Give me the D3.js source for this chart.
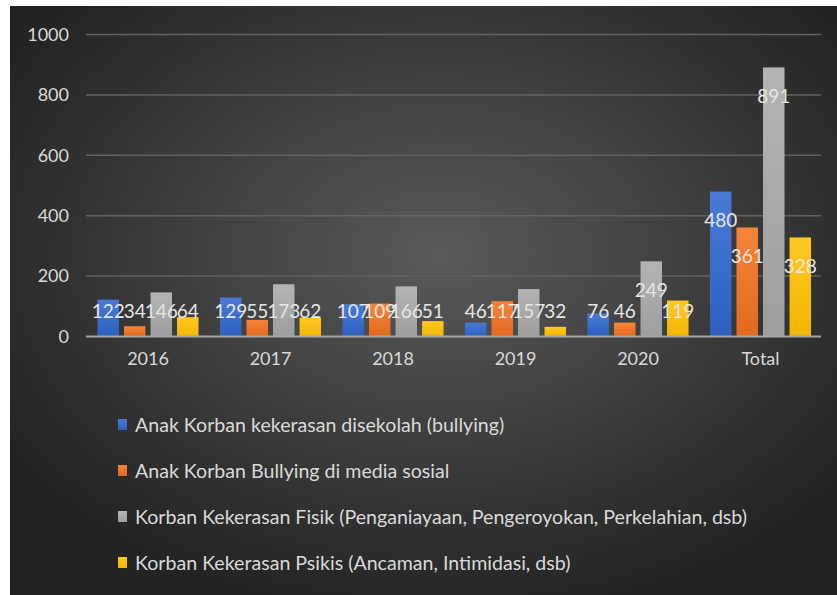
<!DOCTYPE html>
<html>
<head>
<meta charset="utf-8">
<script src="https://cdn.jsdelivr.net/npm/d3@7"></script>
<style>
  body { margin: 0; background: #fff; }
  svg { display: block; font-family: Lato, "Open Sans", sans-serif; }
</style>
</head>
<body>
<div id="chart"></div>
<script>
// data
const kategori = ["2016", "2017", "2018", "2019", "2020", "Total"];
const serije = [
    "Anak Korban kekerasan disekolah (bullying)",
    "Anak Korban Bullying di media sosial",
    "Korban Kekerasan Fisik (Penganiayaan, Pengeroyokan, Perkelahian, dsb)",
    "Korban Kekerasan Psikis (Ancaman, Intimidasi, dsb)"
];
const nilaiSekolah = [122, 129, 107, 46, 76, 480];
const nilaiMedsos = [34, 55, 109, 117, 46, 361];
const nilaiFisik = [146, 173, 166, 157, 249, 891];
const nilaiPsikis = [64, 62, 51, 32, 119, 328];
const yTicks = [0, 200, 400, 600, 800, 1000];

const warna = [
    ["#4a7ad6", "#2c60bf"],
    ["#f5843a", "#e2691e"],
    ["#b4b4b4", "#9e9e9e"],
    ["#ffc823", "#f2b500"]
];

const sviNizovi = [nilaiSekolah, nilaiMedsos, nilaiFisik, nilaiPsikis];

const sirina = 837, visina = 595;
const svg = d3.select("#chart").append("svg")
    .attr("width", sirina)
    .attr("height", visina);

const defs = svg.append("defs");
const pozadina = defs.append("radialGradient")
    .attr("id", "pozadina")
    .attr("cx", "52%").attr("cy", "42%").attr("r", "62%");
pozadina.append("stop").attr("offset", "0%").attr("stop-color", "#5a5a5a");
pozadina.append("stop").attr("offset", "100%").attr("stop-color", "#232323");

warna.forEach((w, i) => {
    const g = defs.append("linearGradient")
        .attr("id", "bar" + i)
        .attr("x1", 0).attr("y1", 0).attr("x2", 0).attr("y2", 1);
    g.append("stop").attr("offset", "0%").attr("stop-color", w[0]);
    g.append("stop").attr("offset", "100%").attr("stop-color", w[1]);
});

svg.append("rect")
    .attr("x", 10).attr("y", 6)
    .attr("width", sirina - 10).attr("height", visina - 6)
    .attr("fill", "url(#pozadina)");

// scales
const x0 = d3.scaleBand()
    .domain(kategori)
    .range([86.75, 821.75]);

const grupa = x0.bandwidth() * 0.825;
const x1 = d3.scaleBand()
    .domain(d3.range(serije.length))
    .range([(x0.bandwidth() - grupa) / 2, (x0.bandwidth() + grupa) / 2])
    .paddingInner(0.19);

const y = d3.scaleLinear()
    .domain([0, 1000])
    .range([336.5, 34.5]);

// gridlines
svg.append("g")
    .selectAll("line")
    .data(yTicks.filter(t => t > 0))
    .join("line")
    .attr("x1", 86).attr("x2", 821)
    .attr("y1", d => y(d)).attr("y2", d => y(d))
    .attr("stroke", "#626262")
    .attr("stroke-width", 1.5);

// y axis labels
const yOs = svg.append("g")
    .attr("transform", "translate(72,0)")
    .call(d3.axisLeft(y).tickValues(yTicks).tickFormat(d3.format("d")).tickSize(0).tickPadding(3));
yOs.select(".domain").remove();
yOs.selectAll("text")
    .attr("fill", "#d9d9d9")
    .style("font-size", "18px")
    .style("font-family", "Lato, sans-serif");

// bars
const grupe = svg.append("g")
    .selectAll("g")
    .data(kategori.map((k, i) => ({ k, vals: sviNizovi.map(s => s[i]) })))
    .join("g")
    .attr("transform", d => `translate(${x0(d.k)},0)`);

grupe.selectAll("rect")
    .data(d => d.vals.map((v, s) => ({ v, s })))
    .join("rect")
    .attr("x", d => x1(d.s))
    .attr("y", d => y(d.v))
    .attr("width", x1.bandwidth())
    .attr("height", d => y(0) - y(d.v))
    .attr("fill", d => `url(#bar${d.s})`);

// zero line
svg.append("line")
    .attr("x1", 86).attr("x2", 821)
    .attr("y1", y(0)).attr("y2", y(0))
    .attr("stroke", "#a6a6a6")
    .attr("stroke-width", 2);

// data labels
grupe.selectAll("text")
    .data(d => d.vals.map((v, s) => ({ v, s })))
    .join("text")
    .attr("x", d => x1(d.s) + x1.bandwidth() / 2)
    .attr("y", d => Math.min(y(d.v) + 35.5, 317.5))
    .attr("text-anchor", "middle")
    .attr("fill", "#e6e6e6")
    .style("font-size", "19px")
    .text(d => d.v);

// x axis labels
const xOs = svg.append("g")
    .attr("transform", `translate(0,${y(0)})`)
    .call(d3.axisBottom(x0).tickSize(0).tickPadding(16));
xOs.select(".domain").remove();
xOs.selectAll("text")
    .attr("fill", "#d9d9d9")
    .style("font-size", "18px")
    .style("font-family", "Lato, sans-serif");

// legend
const legenda = svg.append("g")
    .selectAll("g")
    .data(serije)
    .join("g")
    .attr("transform", (d, i) => `translate(118,${425 + i * 46})`);

legenda.append("rect")
    .attr("x", 0).attr("y", -6)
    .attr("width", 9).attr("height", 11)
    .attr("fill", (d, i) => `url(#bar${i})`);

legenda.append("text")
    .attr("x", 17)
    .attr("y", 7)
    .attr("fill", "#d9d9d9")
    .style("font-size", "19.6px")
    .text(d => d);
</script>
</body>
</html>
